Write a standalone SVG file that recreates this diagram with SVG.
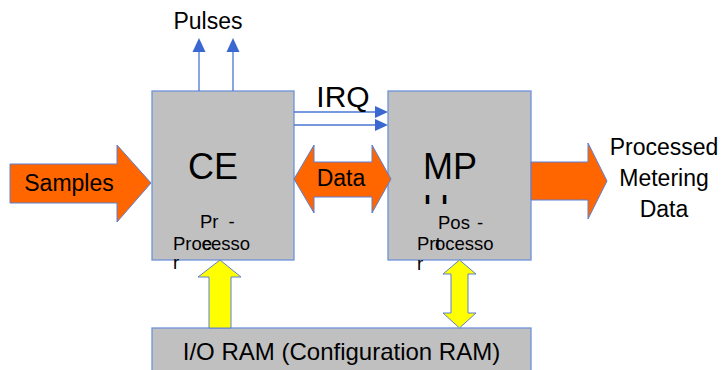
<svg xmlns="http://www.w3.org/2000/svg" width="725" height="370" viewBox="0 0 725 370">
<defs>
<style>
.box{fill:#C0C0C0;stroke:#6F93DB;stroke-width:1.3}
.t{font-family:"Liberation Sans",Arial,sans-serif;fill:#000}
.orange{fill:#FF6600;stroke:#5B7FD6;stroke-width:1}
.yellow{fill:#FFFF00;stroke:#5B7FD6;stroke-width:1}
.ln{stroke:#4A76D2;stroke-width:1.3;fill:none}
.hd{fill:#3A68D0}
</style>
<clipPath id="mpclip"><rect x="400" y="100" width="100" height="104"/></clipPath>
</defs>
<rect width="725" height="370" fill="#fff"/>
<g id="ce">
<rect class="box" x="152" y="91" width="142" height="169"/>
<text class="t" x="213" y="179" font-size="36" text-anchor="middle">CE</text>
<text class="t" x="200" y="228" font-size="18.5">Pr<tspan x="228.5">-</tspan></text>
<text class="t" x="173" y="250" font-size="18.5">Proe<tspan dx="-10.3">cesso</tspan></text>
<text class="t" x="173" y="269" font-size="18.5">r</text>
</g>
<g id="mpu">
<rect class="box" x="388" y="91" width="143" height="169"/>
<text class="t" x="423" y="179" font-size="36" clip-path="url(#mpclip)">MP<tspan x="423" dy="42">U</tspan></text>
<text class="t" x="438" y="229" font-size="18.5">Pos<tspan x="477">-</tspan></text>
<text class="t" x="417" y="250" font-size="18.5">Prt<tspan dx="-5.6">ocesso</tspan></text>
<text class="t" x="417" y="270" font-size="18.5">r</text>
</g>
<g id="ioram">
<rect class="box" x="152" y="328" width="379" height="46"/>
<text class="t" x="341.5" y="360" font-size="24" text-anchor="middle">I/O RAM (Configuration RAM)</text>
</g>
<g id="connectors">
<g id="samples">
<polygon class="orange" points="10,164 117,164 117,145 151,183 117,222 117,203 10,203"/>
<text class="t" x="69" y="191" font-size="23" text-anchor="middle">Samples</text>
</g>
<g id="data">
<polygon class="orange" points="294,179 314,145 314,162 372,162 372,145 391,179 372,213 372,197 314,197 314,213"/>
<text class="t" x="341" y="186" font-size="23" text-anchor="middle">Data</text>
</g>
<g id="output">
<polygon class="orange" points="531,162 588,162 588,143 607,181 588,219 588,200 531,200"/>
<text class="t" x="664" y="155" font-size="23" text-anchor="middle">Processed</text>
<text class="t" x="664" y="186" font-size="23" text-anchor="middle">Metering</text>
<text class="t" x="664" y="217" font-size="23" text-anchor="middle">Data</text>
</g>
<g id="pulses">
<line class="ln" x1="199" y1="91" x2="199" y2="51"/>
<line class="ln" x1="233" y1="91" x2="233" y2="51"/>
<polygon class="hd" points="199,38 205.5,52 192.5,52"/>
<polygon class="hd" points="233,38 239.5,52 226.5,52"/>
<text class="t" x="208" y="29" font-size="23" text-anchor="middle">Pulses</text>
</g>
<g id="irq">
<line class="ln" x1="294" y1="112" x2="376" y2="112"/>
<line class="ln" x1="294" y1="125" x2="376" y2="125"/>
<polygon class="hd" points="388,112 375,106 375,118"/>
<polygon class="hd" points="388,125 375,119 375,131"/>
<text class="t" x="343" y="107" font-size="30" text-anchor="middle">IRQ</text>
</g>
<polygon class="yellow" points="209,328 209,277 198,277 220,260 241,277 231,277 231,328"/>
<polygon class="yellow" points="459.5,260 476,274 468,274 468,313 476,313 459.5,328 443,313 451,313 451,274 443,274"/>
</g>
</svg>
